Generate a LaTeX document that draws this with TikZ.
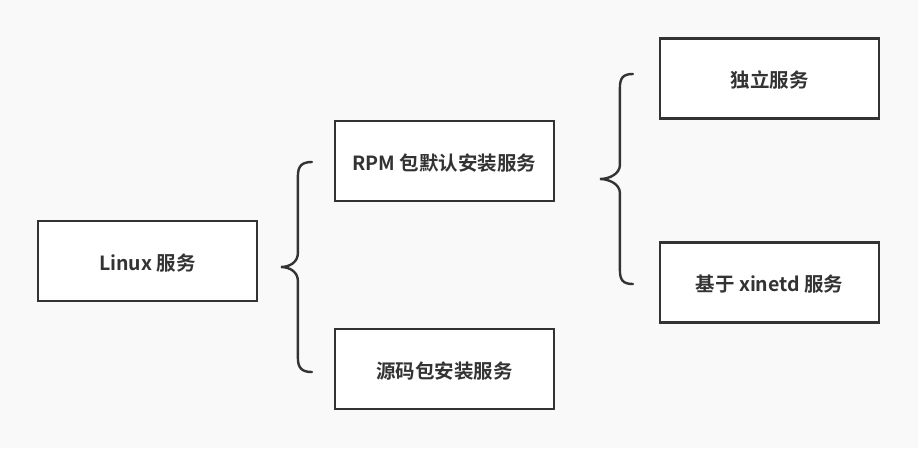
\documentclass[tikz,border=0pt]{standalone}
\usepackage{fontspec}
\usepackage{tikz}
\usetikzlibrary{calc}
\setmainfont{Noto Sans CJK SC}[BoldFont={Noto Sans CJK SC Bold}]
\definecolor{PaperGray}{HTML}{F9F9F9}
\definecolor{InkGray}{HTML}{333333}

\begin{document}
\begin{tikzpicture}[
  x=1pt,y=-1pt,
  svcbox/.style={draw=InkGray,line width=2.2pt,fill=white,
                 minimum width=219pt,minimum height=80pt,
                 inner sep=3pt,font=\fontsize{19.5}{22}\selectfont\bfseries,
                 text height=1.85em,text depth=0pt,text=InkGray},
  brace/.style={draw=InkGray,line width=2.4pt,line cap=round}
]
\fill[PaperGray] (0,0) rectangle (918,448);
\useasboundingbox (0,0) rectangle (918,448);

% Linux service and its two kinds
\node[svcbox] (linux) at (147.5,261) {Linux 服务};
\node[svcbox] (rpm) at (444.5,161) {RPM 包默认安装服务};
\node[svcbox] (source) at (444.5,369) {源码包安装服务};

% RPM default services
\node[svcbox] (alone) at (769.5,78.5) {独立服务};
\node[svcbox] (xinetd) at (769.5,282.5) {基于 xinetd 服务};

% left brace
\coordinate (b1top) at ($(rpm.west)+(-22,1)$);
\coordinate (b1bot) at ($(source.west)+(-22,3)$);
\coordinate (b1tip) at ($(b1top)!0.5!(b1bot)+(-31,0)$);
\draw[brace] (b1top) .. controls +(-10,0) and +(0,-10) .. ($(b1top)+(-14,14)$)
  -- ($(b1tip)+(17,-14)$) .. controls +(0,9) and +(9,0) .. (b1tip)
  .. controls +(9,0) and +(0,-9) .. ($(b1tip)+(17,14)$)
  -- ($(b1bot)+(-14,-14)$) .. controls +(0,10) and +(-10,0) .. (b1bot);

% right brace
\coordinate (b2top) at ($(alone.west)+(-26,-4.5)$);
\coordinate (b2bot) at ($(xinetd.west)+(-26,1.5)$);
\coordinate (b2tip) at ($(b2top)!0.5!(b2bot)+(-33,0)$);
\draw[brace] (b2top) .. controls +(-10,0) and +(0,-10) .. ($(b2top)+(-13,14)$)
  -- ($(b2tip)+(20,-14)$) .. controls +(0,9) and +(9,0) .. (b2tip)
  .. controls +(9,0) and +(0,-9) .. ($(b2tip)+(20,14)$)
  -- ($(b2bot)+(-13,-14)$) .. controls +(0,10) and +(-10,0) .. (b2bot);
\end{tikzpicture}
\end{document}
